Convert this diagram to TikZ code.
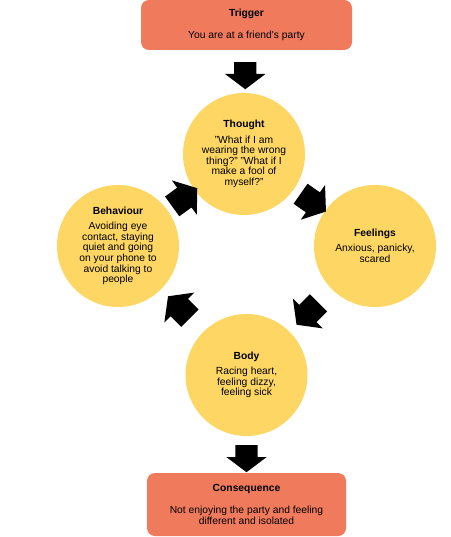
\documentclass[tikz,border=0pt]{standalone}
\usepackage{fontspec}
\setmainfont{Liberation Sans}
\usetikzlibrary{shapes.arrows,calc}
\definecolor{boxred}{RGB}{240,122,92}
\definecolor{circyellow}{RGB}{253,214,99}

\begin{document}
\begin{tikzpicture}[x=1pt,y=-1pt,
        box/.style={fill=boxred, rounded corners=8pt, inner sep=0pt, align=center, font=\fontsize{10.3pt}{10.6pt}\selectfont},
        circ/.style={circle, fill=circyellow, minimum size=122pt, inner sep=0pt, align=center, font=\fontsize{10.3pt}{10.6pt}\selectfont},
        bigarrow/.style={single arrow, fill=black, inner xsep=0pt, inner ysep=11pt, minimum width=40pt, minimum height=27pt, single arrow head extend=9pt, single arrow tip angle=106},
        slantarrow/.style={bigarrow, inner ysep=12pt, minimum width=42pt, minimum height=31pt}]
        \useasboundingbox (0,0) rectangle (450,537);

        % trigger and consequence
        \node[box, minimum width=211pt, minimum height=50pt] (trigger) at (246.5,25) {\textbf{Trigger}\\[11pt] You are at a friend\textquotesingle s party};
        \node[box, minimum width=199pt, minimum height=63pt] (consequence) at (246.5,504.5) {\textbf{Consequence}\\[11pt] Not enjoying the party and feeling\\ different and isolated};

        % the cycle
        \node[circ] (thought) at (244,154) {\textbf{Thought}\\[4.5pt] "What if I am\\ wearing the wrong\\ thing?" "What if I\\ make a fool of\\ myself?"};
        \node[circ] (feelings) at (375,246) {\textbf{Feelings}\\[4.5pt] Anxious, panicky,\\ scared};
        \node[circ] (body) at (246.5,375) {\textbf{Body}\\[4.5pt] Racing heart,\\ feeling dizzy,\\ feeling sick};
        \node[circ] (behaviour) at (118,246) {\textbf{Behaviour}\\[4.5pt] Avoiding eye\\ contact, staying\\ quiet and going\\ on your phone to\\ avoid talking to\\ people};

        % block arrows
        \node[bigarrow, rotate=-90] (a1) at ($(trigger.south)!0.5!(thought.north)$) {};
        \node[slantarrow, rotate=-35] (a2) at ($(thought)!0.5!(feelings)$) {};
        \node[slantarrow, rotate=-135] (a3) at ($(feelings)!0.5!(body)$) {};
        \node[slantarrow, rotate=135] (a4) at ($(body)!0.5!(behaviour)$) {};
        \node[slantarrow, rotate=36] (a5) at ($(behaviour)!0.5!(thought)$) {};
        \node[bigarrow, rotate=-90] (a6) at ($(body.south)!0.5!(consequence.north)$) {};
\end{tikzpicture}
\end{document}
